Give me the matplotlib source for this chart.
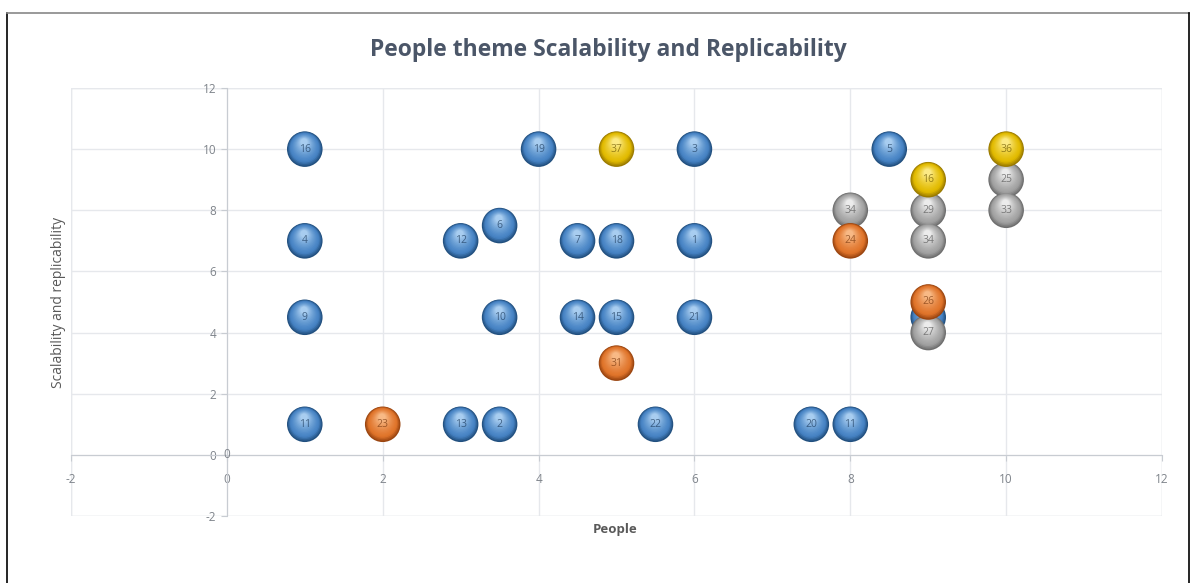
import numpy as np
import matplotlib
matplotlib.use("Agg")
import matplotlib.pyplot as plt
from matplotlib.transforms import ScaledTranslation
from matplotlib.colors import to_rgb

# bubble data, one group per colour
blue_x = [1, 4, 6, 8.5, 1, 3, 3.5, 4.5, 5, 6, 1, 3.5, 4.5, 5, 6, 9, 1, 3, 3.5, 5.5, 7.5, 8]
blue_y = [10, 10, 10, 10, 7, 7, 7.5, 7, 7, 7, 4.5, 4.5, 4.5, 4.5, 4.5, 4.5, 1, 1, 1, 1, 1, 1]
blue_lbl = ["16", "19", "3", "5", "4", "12", "6", "7", "18", "1", "9", "10", "14", "15", "21", "8",
            "11", "13", "2", "22", "20", "11"]

grey_x = [10, 8, 9, 10, 9, 9]
grey_y = [9, 8, 8, 8, 7, 4]
grey_lbl = ["25", "34", "29", "33", "34", "27"]

orange_x = [8, 9, 5, 2]
orange_y = [7, 5, 3, 1]
orange_lbl = ["24", "26", "31", "23"]

yellow_x = [5, 10, 9]
yellow_y = [10, 10, 9]
yellow_lbl = ["37", "36", "16"]

x_ticks = [-2, 0, 2, 4, 6, 8, 10, 12]
y_ticks = [-2, 0, 2, 4, 6, 8, 10, 12]

plt.rcParams['font.family'] = ['Open Sans', 'DejaVu Sans']
plt.rcParams['axes.unicode_minus'] = False

fig = plt.figure(figsize=(11.96, 5.83), dpi=100)
ax = fig.add_axes([71 / 1196, 67 / 583, (1162 - 71) / 1196, (516 - 88) / 583])

ax.set_xlim(-2, 12)
ax.set_ylim(-2, 12)
ax.set_xticks(x_ticks)
ax.set_yticks(y_ticks)
ax.grid(True, color="#e6e8ec", linewidth=1.0)
ax.set_axisbelow(True)
for s in ["top", "right"]:
    ax.spines[s].set_visible(False)
ax.spines["left"].set_position(("data", 0))
ax.spines["bottom"].set_position(("data", 0))
ax.spines["left"].set_color("#c8ccd2")
ax.spines["bottom"].set_color("#c8ccd2")
ax.tick_params(axis="both", colors="#c8ccd2", labelcolor="#7f848b", labelsize=8.5, length=4, width=0.8)
ax.tick_params(axis="x", pad=9)
ax.text(0, 0, "0", ha="center", va="center", fontsize=8.5, color="#7f848b")

# outer frame of plot area
for v in (-2, 12):
    ax.axvline(v, color="#e3e6ea", lw=1.0, zorder=0.5)
    ax.axhline(v, color="#e3e6ea", lw=1.0, zorder=0.5)


def bubble_group(xs, ys, labels, dark, base, light, txt, z):
    r_pt = 12.8  # radius in points
    n = 16
    dark, base, light = np.array(to_rgb(dark)), np.array(to_rgb(base)), np.array(to_rgb(light))
    for i in range(n):
        t = i / (n - 1)
        scale = 1 - 0.8 * t
        if t < 0.22:
            col = dark + (base - dark) * (t / 0.22)
        else:
            col = base + (light - base) * ((t - 0.22) / 0.78) ** 1.3
        off = (1 - scale) * r_pt * 0.5 / 72
        tr = ax.transData + ScaledTranslation(-off * 0.1, off, fig.dpi_scale_trans)
        ax.scatter(xs, ys, s=(2 * r_pt * scale) ** 2, color=col, edgecolors="none",
                   transform=tr, zorder=z + i * 0.001)
    for x, y, lb in zip(xs, ys, labels):
        ax.text(x, y, lb, ha="center", va="center", fontsize=7.5, color=txt, alpha=0.7, zorder=z + 0.05)


bubble_group(blue_x, blue_y, blue_lbl, "#22507f", "#4683c4", "#a8cdf0", "#1d3c5e", 3)
bubble_group(grey_x, grey_y, grey_lbl, "#6e6e6e", "#a2a2a2", "#ececec", "#555555", 4)
bubble_group(orange_x, orange_y, orange_lbl, "#9a4510", "#e0742a", "#f8b985", "#7a3a10", 5)
bubble_group(yellow_x, yellow_y, yellow_lbl, "#9a7a00", "#e2bb00", "#fcea85", "#6e5800", 6)

fig.text(608 / 1196, 1 - 50 / 583, "People theme Scalability and Replicability", ha="center", va="center",
         fontsize=16.5, fontweight="bold", color="#4b5668")
fig.text(615 / 1196, 1 - 530 / 583, "People", ha="center", va="center", fontsize=9.5,
         fontweight="bold", color="#595959")
fig.text(58 / 1196, 1 - 302 / 583, "Scalability and replicability", ha="center", va="center",
         rotation=90, fontsize=10, color="#595959")

# outer border of the picture
fig.add_artist(plt.Line2D([7 / 1196, 7 / 1196], [0, 1 - 13 / 583], transform=fig.transFigure, color="black", lw=1.2))
fig.add_artist(plt.Line2D([7 / 1196, 1189 / 1196], [1 - 13 / 583, 1 - 13 / 583], transform=fig.transFigure,
                          color="#888888", lw=1.2))
fig.add_artist(plt.Line2D([1189 / 1196, 1189 / 1196], [0, 1 - 13 / 583], transform=fig.transFigure,
                          color="black", lw=1.2))

fig.savefig("out.png", dpi=100)
